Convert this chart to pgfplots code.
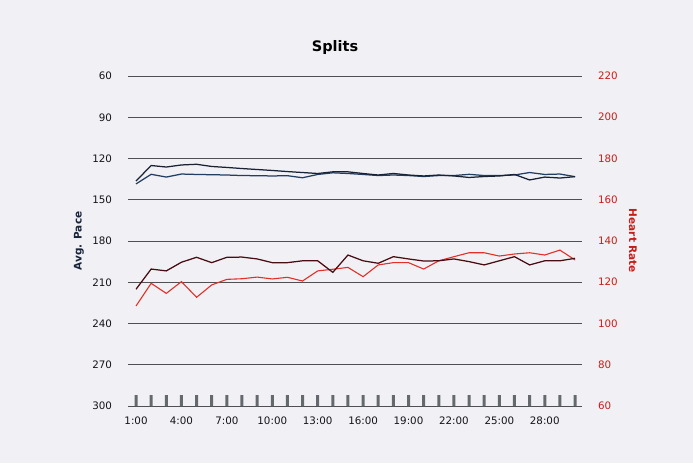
\documentclass[border=0pt]{standalone}
\usepackage{fontspec}
\setmainfont{DejaVu Sans}
\usepackage{pgfplots}
\usepackage{pgfplotstable}
\pgfplotsset{compat=1.18}
\definecolor{bg}{RGB}{241,241,245}
\definecolor{gridc}{RGB}{80,80,84}
\definecolor{navyA}{RGB}{24,34,52}
\definecolor{navyB}{RGB}{34,62,98}
\definecolor{redD}{RGB}{72,12,18}
\definecolor{redB}{RGB}{226,48,40}
\definecolor{hrred}{RGB}{200,28,24}
\definecolor{txt}{RGB}{20,20,24}
\definecolor{ylab}{RGB}{24,36,58}
\definecolor{barc}{RGB}{100,105,110}

\pgfplotstableread{
m A B HRd HRb bar
1 136.4 138.5 116.6 108.5 65.3
2 125.1 131.5 126.4 119.5 65.3
3 126.2 133.5 125.5 114.6 65.3
4 124.7 131.3 129.7 120.3 65.3
5 124.2 131.6 132.1 112.7 65.3
6 125.8 131.8 129.5 118.7 65.3
7 126.5 132.0 132.1 121.4 65.3
8 127.3 132.4 132.2 121.7 65.3
9 128.0 132.5 131.3 122.5 65.3
10 128.7 132.7 129.5 121.6 65.3
11 129.5 132.5 129.5 122.4 65.3
12 130.2 134.0 130.4 120.6 65.3
13 130.9 131.6 130.4 125.5 65.3
14 129.7 130.4 124.8 126.3 65.3
15 129.7 130.9 133.2 127.2 65.3
16 130.9 131.6 130.4 122.7 65.3
17 132.0 132.4 129.2 128.4 65.3
18 130.9 132.0 132.4 129.5 65.3
19 132.0 132.4 131.3 129.5 65.3
20 132.7 133.1 130.3 126.4 65.3
21 132.0 132.4 130.4 130.4 65.3
22 132.7 132.4 131.3 132.4 65.3
23 133.8 131.5 130.0 134.3 65.3
24 133.1 132.4 128.4 134.3 65.3
25 132.7 132.4 130.4 132.7 65.3
26 131.6 132.0 132.4 133.7 65.3
27 135.6 130.2 128.4 134.3 65.3
28 133.5 131.6 130.4 133.2 65.3
29 134.2 131.3 130.4 135.6 65.3
30 133.2 133.2 131.6 130.8 65.3
}\splits

\begin{document}
\begin{tikzpicture}
\fill[bg] (-128pt,-57pt) rectangle (565pt,406pt);
\useasboundingbox (-128pt,-57pt) rectangle (565pt,406pt);
\begin{axis}[
  at={(0,0)}, anchor=south west,
  scale only axis, width=454pt, height=330pt,
  xmin=0.47, xmax=30.46,
  ymin=60, ymax=300, y dir=reverse,
  ytick={60,90,...,300},
  ymajorgrids, grid style={gridc, line width=0.75pt},
  axis line style={draw=none},
  major tick length=0pt,
  xtick={1,4,7,10,13,16,19,22,25,28},
  xticklabels={1:00,4:00,7:00,10:00,13:00,16:00,19:00,22:00,25:00,28:00},
  /pgf/number format/assume math mode=true,
  tick label style={font=\fontsize{10.3}{12}\selectfont, text=txt},
  yticklabel style={xshift=-12.5pt},
  xticklabel style={yshift=-7.5pt},
  ylabel={\textbf{Avg. Pace}},
  ylabel style={at={(axis description cs:-0.108,0.5)}, anchor=center, font=\fontsize{10.5}{12}\selectfont, text=ylab},
  title={\textbf{Splits}},
  title style={at={(axis description cs:0.456,1)}, anchor=base, yshift=19pt, font=\fontsize{14.5}{16}\selectfont, text=black},
]
\addplot[navyB, line width=1.25pt] table[x=m, y=B] {\splits};
\addplot[navyA, line width=1.25pt] table[x=m, y=A] {\splits};
\end{axis}
\begin{axis}[
  at={(0,0)}, anchor=south west,
  scale only axis, width=454pt, height=330pt,
  xmin=0.47, xmax=30.46,
  ymin=60, ymax=220,
  axis x line=none, axis y line*=right,
  axis line style={draw=none},
  major tick length=0pt,
  ytick={60,80,...,220},
  /pgf/number format/assume math mode=true,
  yticklabel style={font=\fontsize{10.3}{12}\selectfont, text=hrred, xshift=12.5pt},
  ylabel={\textbf{Heart Rate}},
  ylabel style={at={(axis description cs:1.112,0.5)}, anchor=center, rotate=180, font=\fontsize{10.5}{12}\selectfont, text=hrred},
]
\addplot[ybar, bar width=3pt, fill=barc, draw=none, bar shift=0pt] table[x=m, y=bar] {\splits};
\addplot[redB, line width=1.1pt] table[x=m, y=HRb] {\splits};
\addplot[redD, line width=1.25pt] table[x=m, y=HRd] {\splits};
\end{axis}
\end{tikzpicture}
\end{document}
